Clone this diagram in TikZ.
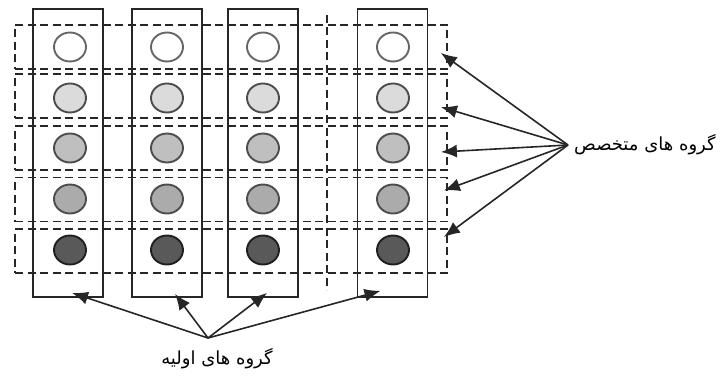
\documentclass[tikz,border=0pt]{standalone}
\usepackage{fontspec}
\usetikzlibrary{arrows.meta,shapes.geometric}
\TeXXeTstate=1
\newfontfamily\arabicfont[Script=Arabic]{DejaVu Sans}
\begin{document}
\begin{tikzpicture}[x=1pt,y=-1pt,
  colbox/.style={draw=black!85,line width=1.8pt,minimum width=70pt,minimum height=288pt,inner sep=0pt},
  rowbox/.style={draw=black!85,line width=1.8pt,dash pattern=on 8pt off 4.5pt,minimum width=432pt,minimum height=44pt,inner sep=0pt},
  dot/.style={ellipse,draw,line width=1.9pt,minimum width=32pt,minimum height=29pt,inner sep=0pt},
  lvl1/.style={dot,draw=black!60,fill=white},
  lvl2/.style={dot,draw=black!70,fill=black!14},
  lvl3/.style={dot,draw=black!70,fill=black!25},
  lvl4/.style={dot,draw=black!70,fill=black!33},
  lvl5/.style={dot,draw=black!88,fill=black!65},
  arr/.style={line width=1.6pt,draw=black!85,-{Latex[length=16pt,width=13pt]}},
  lbl/.style={font=\arabicfont\fontsize{18}{20}\selectfont,inner sep=0pt}]
\useasboundingbox (0,0) rectangle (722,377);

% experts groups: dashed rows
\foreach \r/\y in {1/47,2/96,3/148,4/199.5,5/251}
  \node[rowbox] (r\r) at (231,\y) {};

% divider between columns
\draw[draw=black!85,line width=1.8pt,dash pattern=on 8pt off 4.5pt] (327,15) -- (327,290);

% home groups: solid columns
\foreach \c/\x in {1/68,2/167,3/263,4/392.5}
  \node[colbox] (c\c) at (\x,153) {};

% members
\foreach \c/\x in {1/70,2/167,3/263,4/393}{
  \node[lvl1] (m1\c) at (\x,47) {};
  \node[lvl2] (m2\c) at (\x,98) {};
  \node[lvl3] (m3\c) at (\x,148) {};
  \node[lvl4] (m4\c) at (\x,199) {};
  \node[lvl5] (m5\c) at (\x,250) {};
}

% labels
\node[lbl,anchor=west] (spec) at (574,145) {\beginR گروه های متخصص\endR};
\node[lbl] (home) at (217,359) {\beginR گروه های اولیه\endR};
\coordinate (hub) at (208,338);

% arrows to expert groups
\draw[arr] ([xshift=-6pt]spec.west) -- ([xshift=-7pt,yshift=-6pt]r1.east);
\draw[arr] ([xshift=-6pt]spec.west) -- ([xshift=-7pt,yshift=-11pt]r2.east);
\draw[arr] ([xshift=-6pt]spec.west) -- ([xshift=-7pt,yshift=-4pt]r3.east);
\draw[arr] ([xshift=-6pt]spec.west) -- ([xshift=-4pt,yshift=9pt]r4.east);
\draw[arr] ([xshift=-6pt]spec.west) -- ([xshift=-4pt,yshift=14pt]r5.east);

% arrows to home groups
\draw[arr] (hub) -- ([xshift=4pt,yshift=5pt]c1.south);
\draw[arr] (hub) -- ([xshift=8pt,yshift=4pt]c2.south);
\draw[arr] (hub) -- ([xshift=4pt,yshift=5pt]c3.south);
\draw[arr] (hub) -- ([xshift=-12pt,yshift=7pt]c4.south);
\end{tikzpicture}
\end{document}
